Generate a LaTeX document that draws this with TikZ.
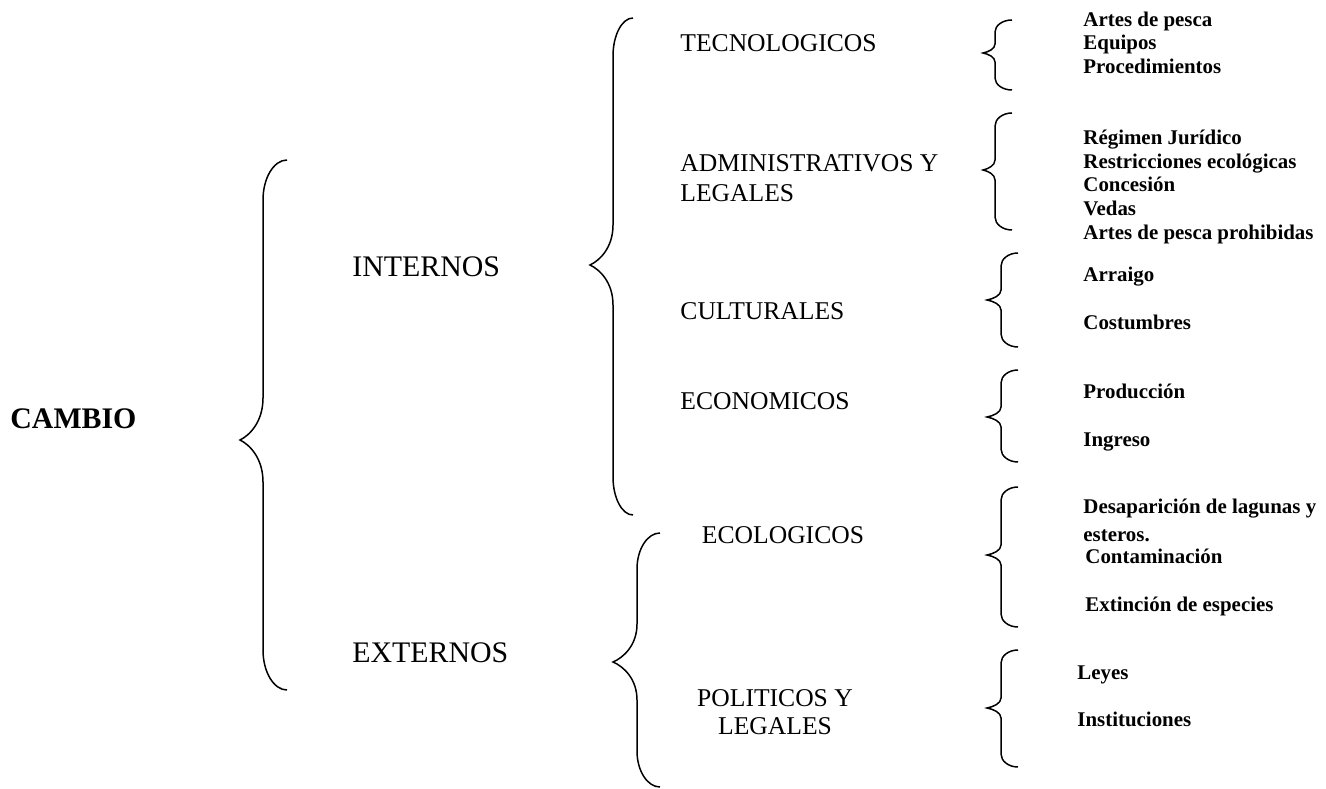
\documentclass[tikz,border=0pt]{standalone}
\usepackage{fontspec}
\setmainfont{Liberation Serif}

% llave: x vertical, x ends, x tip, y top, y tip, y bottom, end radius, tip radius
\newcommand{\llave}[8]{%
  \draw[brace] (#2,#4) .. controls ({#1+0.45*(#2-#1)},#4) and (#1,{#4+0.45*#7}) .. (#1,#4+#7)
    -- (#1,#5-#8)
    .. controls (#1,{#5-0.45*#8}) and ({#3+0.45*(#1-#3)},{#5-0.12*#8}) .. (#3,#5)
    .. controls ({#3+0.45*(#1-#3)},{#5+0.12*#8}) and (#1,{#5+0.45*#8}) .. (#1,#5+#8)
    -- (#1,#6-#7)
    .. controls (#1,{#6-0.45*#7}) and ({#1+0.45*(#2-#1)},#6) .. (#2,#6);}

\tikzset{
  brace/.style={line width=0.7pt},
  root/.style={anchor=mid west, inner sep=0pt, font=\fontsize{14}{16}\selectfont\bfseries},
  group/.style={anchor=mid west, inner sep=0pt, font=\fontsize{14}{16}\selectfont},
  factor/.style={anchor=mid west, inner sep=0pt, font=\fontsize{12}{14}\selectfont},
  item/.style={anchor=mid west, inner sep=0pt, font=\fontsize{9.8}{11}\selectfont\bfseries}
}

\begin{document}
\begin{tikzpicture}[x=0.469pt, y=-0.469pt]
  \useasboundingbox (0,0) rectangle (1326,789);

  % first level
  \node[root] (cambio) at (10,424) {CAMBIO};
  \llave{263}{287}{240}{160}{440}{690}{40}{42}
  \node[group] (internos) at (352,272) {INTERNOS};
  \node[group] (externos) at (352,658) {EXTERNOS};

  % internos
  \llave{613}{633}{590}{18}{265}{515}{38}{40}
  \node[factor] (tec) at (680,47) {TECNOLOGICOS};
  \node[factor] (adm) at (680,167) {ADMINISTRATIVOS Y};
  \node[factor] (adm2) at (680,197) {LEGALES};
  \node[factor] (cul) at (680,315) {CULTURALES};
  \node[factor] (eco) at (680,405) {ECONOMICOS};

  % externos
  \llave{637}{660}{613}{533}{662}{787}{36}{38}
  \node[factor, anchor=mid] (ecol) at (783,539) {ECOLOGICOS};
  \node[factor, anchor=mid] (pol) at (775,702) {POLITICOS Y};
  \node[factor, anchor=mid] (pol2) at (775,730) {LEGALES};

  % tecnologicos
  \llave{995}{1012}{983}{20}{53}{90}{12}{9}
  \node[item] (tec1) at (1083,22) {Artes de pesca};
  \node[item] (tec2) at (1083,45) {Equipos};
  \node[item] (tec3) at (1083,69) {Procedimientos};

  % administrativos
  \llave{995}{1012}{983}{113}{170}{230}{13}{10}
  \node[item] (adm1) at (1083,140) {Régimen Jurídico};
  \node[item] (adm2i) at (1083,164) {Restricciones ecológicas};
  \node[item] (adm3) at (1083,187) {Concesión};
  \node[item] (adm4) at (1083,211) {Vedas};
  \node[item] (adm5) at (1083,235) {Artes de pesca prohibidas};

  % culturales
  \llave{1001}{1018}{987}{253}{300}{347}{13}{10}
  \node[item] (cul1) at (1083,277) {Arraigo};
  \node[item] (cul2) at (1083,325) {Costumbres};

  % economicos
  \llave{1001}{1018}{987}{370}{417}{462}{13}{10}
  \node[item] (eco1) at (1083,394) {Producción};
  \node[item] (eco2) at (1083,442) {Ingreso};

  % ecologicos
  \llave{1001}{1018}{987}{487}{555}{627}{13}{10}
  \node[item] (ecol1) at (1083,509) {Desaparición de lagunas y};
  \node[item] (ecol1b) at (1083,537) {esteros.};
  \node[item] (ecol2) at (1085,559) {Contaminación};
  \node[item] (ecol3) at (1085,607) {Extinción de especies};

  % politicos
  \llave{1001}{1018}{987}{650}{708}{767}{13}{10}
  \node[item] (pol1) at (1077,675) {Leyes};
  \node[item] (pol2i) at (1077,722) {Instituciones};
\end{tikzpicture}
\end{document}
